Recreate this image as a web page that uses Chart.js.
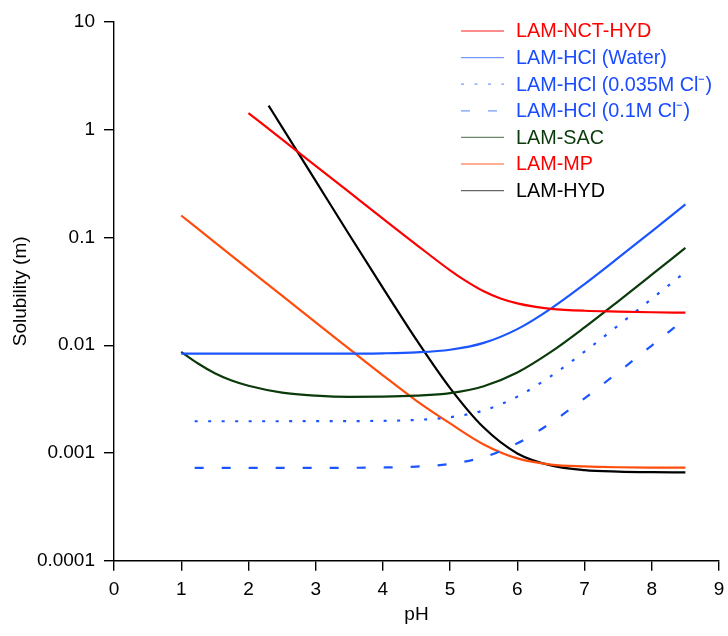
<!DOCTYPE html>
<html>
<head>
<meta charset="utf-8">
<script src="https://cdn.jsdelivr.net/npm/chart.js@4"></script>
<style>
  html, body { margin: 0; padding: 0; background: #fff; }
  #wrap { width: 728px; height: 636px; }
</style>
</head>
<body>
<div id="wrap"><canvas id="solubilityChart" width="728" height="636"></canvas></div>
<script>
// pH / solubility (molal) for each salt form
const phNctHyd = [2, 2.5, 3, 3.5, 4, 4.5, 5, 5.25, 5.5, 5.75, 6, 6.25, 6.5, 7, 7.5, 8, 8.5];
const solNctHyd = [1.429, 0.8128, 0.4624, 0.263, 0.1496, 0.08551, 0.04955, 0.0389, 0.03162, 0.0271, 0.02443, 0.0228, 0.02178, 0.02089, 0.02051, 0.02023, 0.02004];

const phHclWater = [1, 2, 3, 4, 4.5, 5, 5.5, 6, 6.5, 7, 7.5, 8, 8.5];
const solHclWater = [0.00834, 0.00834, 0.008348, 0.008417, 0.008582, 0.009083, 0.010512, 0.014109, 0.021889, 0.036943, 0.064539, 0.11411, 0.20255];

const phHcl035 = [1.2, 2, 3, 4, 4.5, 5, 5.5, 6, 6.5, 7, 7.5, 8, 8.5];
const solHcl035 = [0.00197, 0.00197, 0.001972, 0.001988, 0.002027, 0.002146, 0.002483, 0.003333, 0.005170, 0.008726, 0.015245, 0.026954, 0.047845];

const phHcl01 = [1.2, 2, 3, 4, 4.5, 5, 5.5, 6, 6.5, 7, 7.5, 8, 8.5];
const solHcl01 = [0.000726, 0.000726, 0.000727, 0.000733, 0.000747, 0.000791, 0.000915, 0.001228, 0.001905, 0.003216, 0.005618, 0.009933, 0.017632];

const phSac = [1, 1.25, 1.5, 1.75, 2, 2.5, 3, 3.5, 4, 4.5, 5, 5.5, 6, 6.5, 7, 7.5, 8, 8.5];
const solSac = [0.00867, 0.006761, 0.005495, 0.004699, 0.004207, 0.003631, 0.003404, 0.003319, 0.00333, 0.0034, 0.00359, 0.00416, 0.00558, 0.00866, 0.01462, 0.02554, 0.04515, 0.0802];

const phMp = [1, 1.5, 2, 2.5, 3, 3.5, 4, 4.5, 5, 5.5, 6, 6.5, 7, 7.5, 8, 8.5];
const solMp = [0.160, 0.0902, 0.0509, 0.0288, 0.01626, 0.00923, 0.00525, 0.00305, 0.00188, 0.0012, 0.00089, 0.00078, 0.00075, 0.000737, 0.000732, 0.00073];

const phHyd = [2.3, 2.5, 3, 3.5, 4, 4.5, 5, 5.5, 6, 6.5, 7, 7.5, 8, 8.5];
const solHyd = [1.675, 1.057, 0.335, 0.106, 0.0341, 0.0112, 0.0040, 0.00172, 0.00099, 0.000766, 0.000693, 0.000671, 0.000663, 0.000661];

const seriesLabels = [
    'LAM-NCT-HYD',
    'LAM-HCl (Water)',
    'LAM-HCl (0.035M Cl\u207B)',
    'LAM-HCl (0.1M Cl\u207B)',
    'LAM-SAC',
    'LAM-MP',
    'LAM-HYD'
];

const xTicks = [0, 1, 2, 3, 4, 5, 6, 7, 8, 9];
const yTickValues = [0.0001, 0.001, 0.01, 0.1, 1, 10];
const yTickLabels = ['0.0001', '0.001', '0.01', '0.1', '1', '10'];

const FONT = "'Liberation Sans', Arial, sans-serif";

function toPoints(xs, ys) {
    return xs.map(function(x, i) { return { x: x, y: ys[i] }; });
}

function line(label, xs, ys, color, textColor, dash) {
    return {
        label: label,
        data: toPoints(xs, ys),
        borderColor: color,
        keyTextColor: textColor,
        borderWidth: 2.2,
        borderDash: dash || [],
        borderCapStyle: 'butt',
        pointRadius: 0,
        pointHoverRadius: 0,
        cubicInterpolationMode: 'monotone',
        fill: false
    };
}

// key drawn inside the plot, top right, one row per series
const seriesKey = {
    id: 'seriesKey',
    afterDatasetsDraw(chart) {
        const ctx = chart.ctx;
        ctx.save();
        ctx.font = '19.8px ' + FONT;
        ctx.textBaseline = 'middle';
        ctx.textAlign = 'left';
        chart.data.datasets.forEach(function(ds, i) {
            const y = 31 + i * 26.6;
            ctx.globalAlpha = 0.6;
            ctx.strokeStyle = ds.borderColor;
            ctx.lineWidth = 1.3;
            ctx.setLineDash(ds.borderDash);
            ctx.beginPath();
            ctx.moveTo(461, y);
            ctx.lineTo(504, y);
            ctx.stroke();
            ctx.globalAlpha = 1;
            ctx.setLineDash([]);
            ctx.fillStyle = ds.keyTextColor;
            ctx.fillText(ds.label, 516, y + 1);
        });
        ctx.restore();
    }
};

const ctx = document.getElementById('solubilityChart').getContext('2d');

const solubilityChart = new Chart(ctx, {
    type: 'line',
    data: {
        datasets: [
            line(seriesLabels[0], phNctHyd, solNctHyd, '#ff0000', '#ff0000'),
            line(seriesLabels[1], phHclWater, solHclWater, '#1a55ff', '#1a4cff'),
            line(seriesLabels[2], phHcl035, solHcl035, '#1a55ff', '#1a4cff', [3, 10.5]),
            line(seriesLabels[3], phHcl01, solHcl01, '#1a55ff', '#1a4cff', [9, 18]),
            line(seriesLabels[4], phSac, solSac, '#0b3a0b', '#0b3a0b'),
            line(seriesLabels[5], phMp, solMp, '#ff4d0d', '#ff0000'),
            line(seriesLabels[6], phHyd, solHyd, '#000000', '#000000')
        ]
    },
    plugins: [seriesKey],
    options: {
        responsive: false,
        animation: false,
        layout: { padding: { top: 22, right: 9, bottom: 0, left: 0 } },
        plugins: {
            legend: { display: false },
            tooltip: { enabled: false }
        },
        scales: {
            x: {
                type: 'linear',
                min: 0,
                max: 9,
                afterBuildTicks: function(scale) {
                    scale.ticks = xTicks.map(function(v) { return { value: v }; });
                },
                afterFit: function(scale) {
                    // fixed axis band; end labels may hang into the page margin
                    scale.height = 75.3;
                    scale.paddingLeft = 0;
                    scale.paddingRight = 0;
                },
                ticks: {
                    color: '#000',
                    padding: 8,
                    maxRotation: 0,
                    font: { family: FONT, size: 19 }
                },
                grid: {
                    display: true,
                    drawOnChartArea: false,
                    drawTicks: true,
                    tickLength: 10,
                    color: '#000',
                    lineWidth: 1.4
                },
                border: { display: true, color: '#000', width: 1.4 },
                title: {
                    display: true,
                    text: 'pH',
                    color: '#000',
                    font: { family: FONT, size: 19 },
                    padding: { top: 0, bottom: 10 }
                }
            },
            y: {
                type: 'logarithmic',
                min: 0.0001,
                max: 10,
                afterBuildTicks: function(scale) {
                    scale.ticks = yTickValues.map(function(v) { return { value: v }; });
                },
                afterFit: function(scale) { scale.width = 114; },
                ticks: {
                    color: '#000',
                    padding: 9,
                    font: { family: FONT, size: 19 },
                    callback: function(value) {
                        const i = yTickValues.indexOf(value);
                        return i >= 0 ? yTickLabels[i] : '';
                    }
                },
                grid: {
                    display: true,
                    drawOnChartArea: false,
                    drawTicks: true,
                    tickLength: 10,
                    color: '#000',
                    lineWidth: 1.4
                },
                border: { display: true, color: '#000', width: 1.4 },
                title: {
                    display: true,
                    text: 'Solubility (m)',
                    color: '#000',
                    font: { family: FONT, size: 19 },
                    padding: { top: 9, bottom: 0 }
                }
            }
        }
    }
});
</script>
</body>
</html>
